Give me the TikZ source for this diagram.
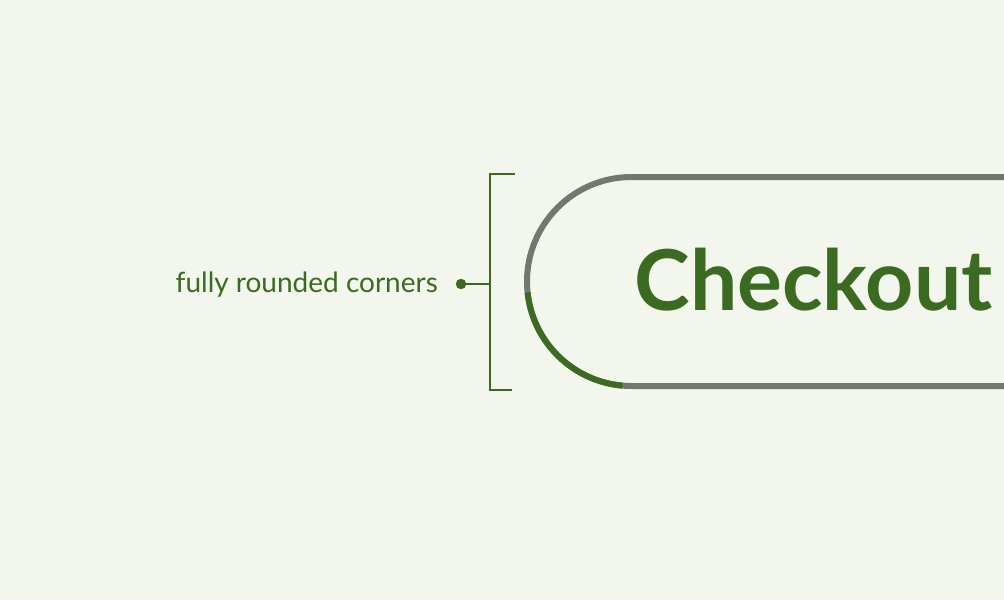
\documentclass[tikz,border=0pt]{standalone}
\usepackage{fontspec}
\setmainfont{Lato}
\definecolor{bg}{HTML}{F3F6EC}
\definecolor{leaf}{HTML}{3A6B21}
\definecolor{outline}{HTML}{737770}

\begin{document}
\begin{tikzpicture}[x=1pt,y=-1pt]
	\fill[bg] (0,0) rectangle (1004,600);
	\useasboundingbox (0,0) rectangle (1004,600);
	\clip (0,0) rectangle (1004,600);

	% button outline, green corner on top
	\draw[outline, line width=6pt, rounded corners=104.5pt] (527,177) rectangle (1120,386);
	\coordinate (c) at (631.5,281.5);
	\draw[leaf, line width=6pt] (c) ++(174:104.5) arc[start angle=174, end angle=95, radius=104.5];
	\node[leaf, inner sep=0pt, font=\bfseries\fontsize{84}{84}\selectfont, anchor=base] (btn) at (813.5,310) {Checkout};

	% bracket and label
	\draw[leaf, line width=2pt] (515,174) -- (490,174) -- (490,390) -- (512,390);
	\filldraw[leaf] (461,284) circle (5pt) node (dot) {};
	\coordinate (brk) at (490,284);
	\draw[leaf, line width=2pt] (dot.center) -- (brk);
	\node[leaf, inner sep=0pt, font=\fontsize{28}{28}\selectfont, anchor=base east] (label) at (438,292) {fully rounded corners};
\end{tikzpicture}
\end{document}
